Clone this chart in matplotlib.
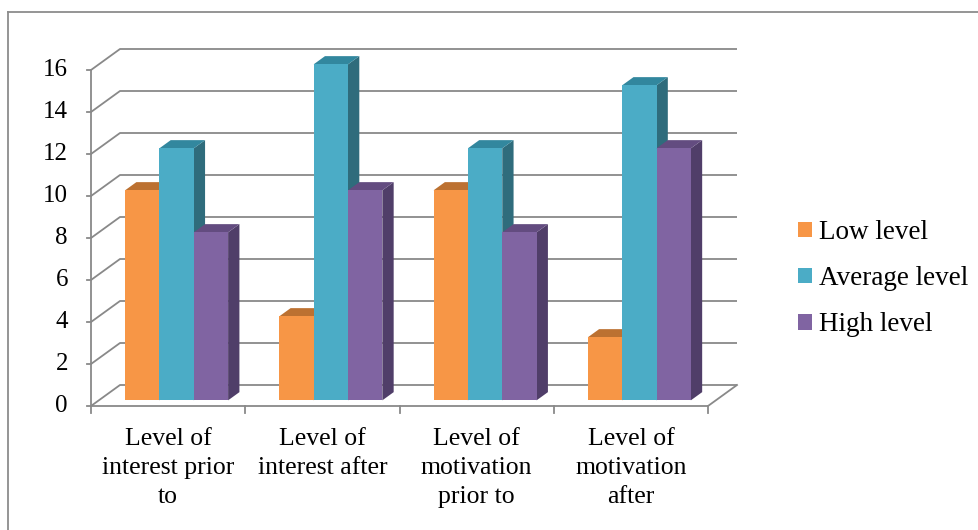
import matplotlib
matplotlib.use("Agg")
import matplotlib.pyplot as plt
from matplotlib.patches import Polygon, Patch
from matplotlib.lines import Line2D

# ---- data -------------------------------------------------------------
categories = [
    "Level of\ninterest prior\nto",
    "Level of\ninterest after",
    "Level of\nmotivation\nprior to",
    "Level of\nmotivation\nafter",
]
series_names = ["Low level", "Average level", "High level"]
low_level = [10, 4, 10, 3]
average_level = [12, 16, 12, 15]
high_level = [8, 10, 8, 12]
y_ticks = [0, 2, 4, 6, 8, 10, 12, 14, 16]

# ---- styling ----------------------------------------------------------
series_values = [low_level, average_level, high_level]
face_colors = ["#F79646", "#4BACC6", "#8064A2"]
top_colors = ["#BC7131", "#32879E", "#634C80"]
side_colors = ["#9E5B22", "#2F6C7C", "#503E69"]
grid_color = "#898989"
serif = ["Liberation Serif", "DejaVu Serif"]

W, H = 979, 530
fig = plt.figure(figsize=(W / 100, H / 100), dpi=100)
ax = fig.add_axes([0, 0, 1, 1])

# data units: x in categories, y in values; one category = CAT_PX pixels
X0_PX, CAT_PX, Y0_PX, UNIT_PX = 91, 154.25, 406, 21.0
ax.set_xlim(-X0_PX / CAT_PX, (W - X0_PX) / CAT_PX)
ax.set_ylim((Y0_PX - H) / UNIT_PX, Y0_PX / UNIT_PX)
ax.axis("off")

# oblique depth offset (full depth of the plot box)
DX, DY = 29 / CAT_PX, 21 / UNIT_PX
n_cat = len(categories)
y_max = y_ticks[-1]


def proj(x, v, d):
    return (x + d * DX, v + d * DY)


lw = 1.3
# walls: side-wall diagonals and back-wall gridlines
for v in y_ticks:
    p0 = proj(0, v, 0)
    p1 = proj(0, v, 1)
    p2 = proj(n_cat, v, 1)
    ax.plot([p0[0], p1[0], p2[0]], [p0[1], p1[1], p2[1]],
            color=grid_color, lw=lw, solid_capstyle="butt", zorder=1)
# value axis (front-left edge)
ax.plot([0, 0], [0, y_max], color=grid_color, lw=lw, zorder=1)
# floor front edge and right edge
f1 = proj(n_cat, 0, 0)
f2 = proj(n_cat, 0, 1)
ax.plot([0, f1[0], f2[0]], [0, f1[1], f2[1]], color=grid_color, lw=lw, zorder=1)
# tick marks
for v in y_ticks:
    ax.plot([-4 / CAT_PX, 0], [v, v], color=grid_color, lw=lw, zorder=1)
    ax.text(-23 / CAT_PX, v, str(v), ha="right", va="center",
            family=serif, fontsize=18, color="#000000")
for c in range(n_cat + 1):
    ax.plot([c, c], [0, -7 / UNIT_PX], color=grid_color, lw=lw, zorder=1)

# ---- 3-D style bars ---------------------------------------------------
bar_w = 0.2227
group_start = 0.17
d0, d1 = 0.27, 0.66
z = 3
for c in range(n_cat):
    for s, vals in enumerate(series_values):
        v = vals[c]
        x0 = c + group_start + s * bar_w
        x1 = x0 + bar_w
        front = [proj(x0, 0, d0), proj(x1, 0, d0), proj(x1, v, d0), proj(x0, v, d0)]
        side = [proj(x1, 0, d0), proj(x1, 0, d1), proj(x1, v, d1), proj(x1, v, d0)]
        top = [proj(x0, v, d0), proj(x1, v, d0), proj(x1, v, d1), proj(x0, v, d1)]
        ax.add_patch(Polygon(side, closed=True, fc=side_colors[s], ec="none", zorder=z))
        ax.add_patch(Polygon(top, closed=True, fc=top_colors[s], ec="none", zorder=z))
        ax.add_patch(Polygon(front, closed=True, fc=face_colors[s], ec="none", zorder=z + 0.5))
        z += 1

# category labels
for c, label in enumerate(categories):
    ax.text(c + 0.5, -22 / UNIT_PX, label, ha="center", va="top",
            family=serif, fontsize=18.5, linespacing=1.42, color="#000000")

# legend
handles = [Patch(facecolor=face_colors[s], edgecolor="none") for s in range(3)]
fig.legend(handles, series_names, loc="upper left",
           bbox_to_anchor=(798 / W, 1 - 220 / H), frameon=False,
           prop={"family": serif, "size": 19.5},
           handlelength=0.52, handleheight=0.52, handletextpad=0.25,
           labelspacing=0.78, borderpad=0, borderaxespad=0)

# outer chart border (top and left edges fall inside the image)
fig.add_artist(Line2D([8 / W, 8 / W], [0, 1 - 12 / H], transform=fig.transFigure,
                      color="#8C8C8C", lw=1.3))
fig.add_artist(Line2D([8 / W, 1], [1 - 12 / H, 1 - 12 / H], transform=fig.transFigure,
                      color="#8C8C8C", lw=1.3))

fig.savefig("out.png", dpi=100, facecolor="white")
